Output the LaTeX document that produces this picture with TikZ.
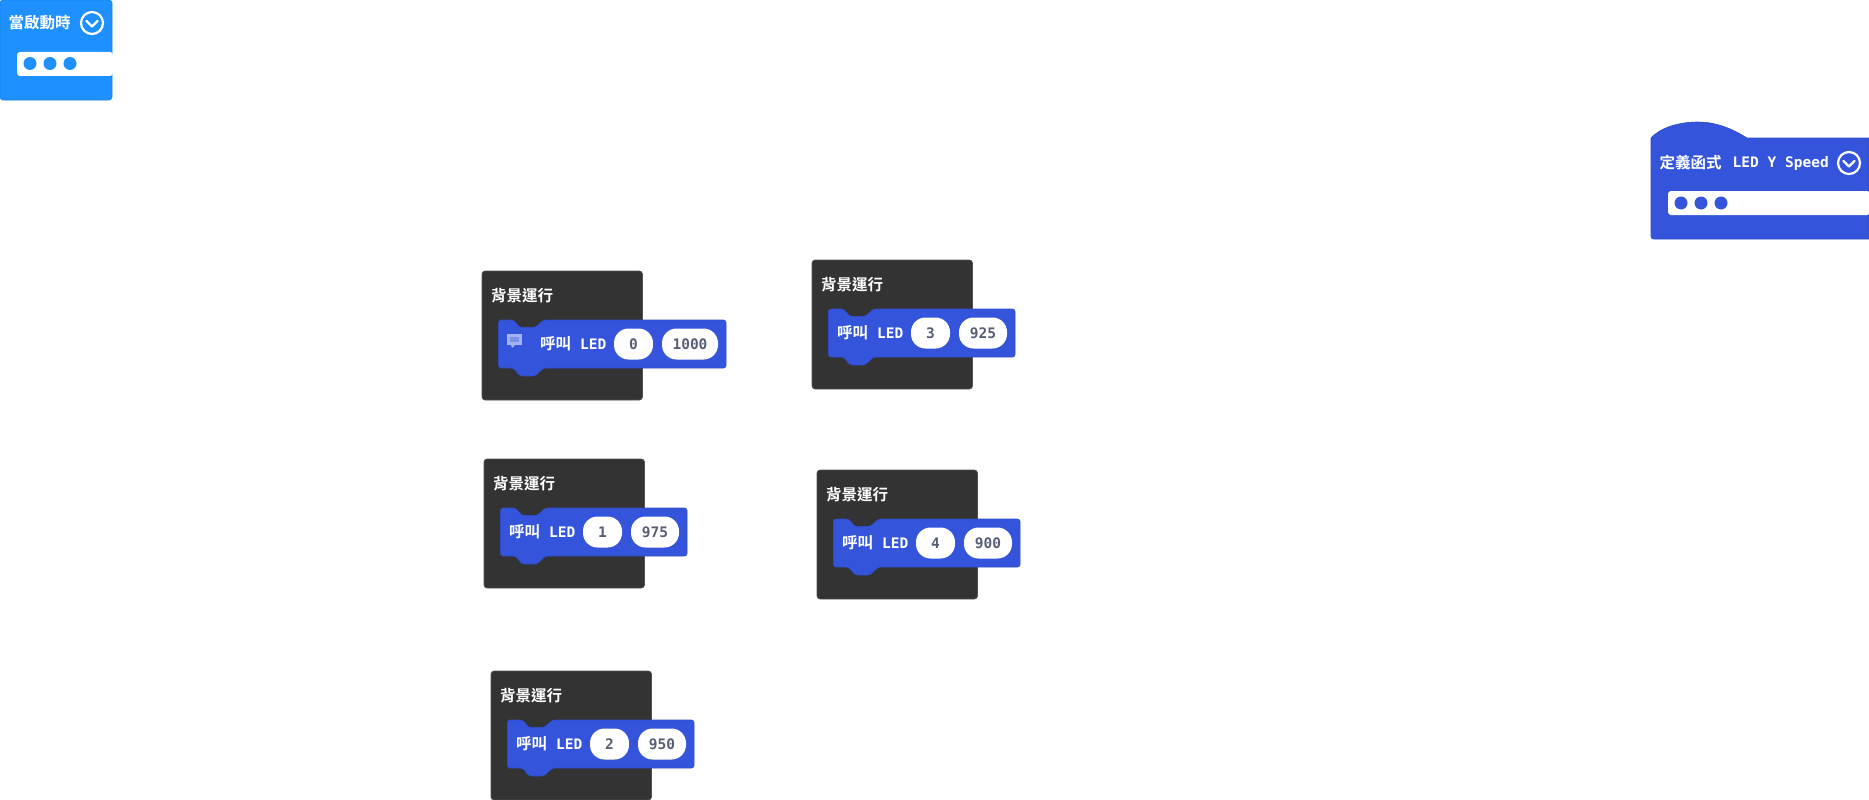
\documentclass[tikz,border=0pt]{standalone}
\usepackage{fontspec}
\newfontfamily\cjk{Noto Sans CJK TC}[BoldFont={Noto Sans CJK TC Bold}]
\newfontfamily\codefont{DejaVu Sans Mono}[BoldFont={DejaVu Sans Mono Bold}]
\definecolor{loopblue}{HTML}{1E90FF}
\definecolor{funcblue}{HTML}{3455DB}
\definecolor{darkbox}{HTML}{333333}
\definecolor{valgrey}{HTML}{575E75}
\tikzset{
  blocktitle/.style={anchor=west, inner sep=0pt, text=white, font=\cjk\bfseries\fontsize{15.5}{15.5}\selectfont},
  blockcode/.style={anchor=west, inner sep=0pt, text=white, font=\codefont\bfseries\fontsize{14.5}{14.5}\selectfont},
  pill/.style={draw=none, fill=white, rounded corners=14.5pt, minimum height=31pt, inner sep=0pt,
    text=valgrey, font=\codefont\bfseries\fontsize{14.5}{14.5}\selectfont},
  togglering/.style={circle, draw=white, line width=2.2pt, minimum size=22pt, inner sep=0pt},
}
% #1 name, #2 x, #3 y, #4 led, #5 speed, #6 width of speed pill, #7 shift of the row
\newcommand{\bgblock}[7]{
\begin{scope}[shift={(#2,#3)}]
\draw [fill=darkbox, draw=darkbox!85!white, line width=.6pt, rounded corners=3pt] (0,0) rectangle (160.5,129);
\node [blocktitle] (title#1) at (9,25) {背景運行};
\draw [fill=funcblue, draw=funcblue!90!black, line width=.6pt, rounded corners=2.5pt]
  (16.5,49) -- (31.5,49) -- (38,56.5) -- (53,56.5) -- (61.5,49) -- (#7+155+#6,49)
  -- (#7+155+#6,97) -- (61.5,97) -- (53,105) -- (38,105) -- (31.5,97) -- (16.5,97) -- cycle;
\node [blocktitle] (call#1) at (#7+25,73) {呼叫};
\node [blockcode] (led#1) at (#7+65,73) {LED};
\node [pill, minimum width=39pt] (num#1) at (#7+118.5,73) {#4};
\node [pill, minimum width=#6 pt] (val#1) at (#7+147+#6/2,73) {#5};
\end{scope}
}
\begin{document}
\begin{tikzpicture}[x=1pt,y=-1pt]
\useasboundingbox (0,0) rectangle (1869,800);

% on start
\draw [fill=loopblue, draw=loopblue!90!black, line width=.6pt, rounded corners=3pt] (0,0) rectangle (112,100);
\fill [white, rounded corners=3pt] (17,52) -- (113,52) -- (113,76) -- (17,76) -- cycle;
\node [blocktitle] (starttitle) at (8.5,23) {當啟動時};
\node [togglering] (starttoggle) at (92,23) {};
\draw [white, line width=2.2pt, line cap=round, line join=round] (86.5,21) -- (92,26.5) -- (97.5,21);
\foreach \dx in {30,50,70} \fill [loopblue] (\dx,63.5) circle[radius=6.5];

% function definition
\draw [fill=funcblue, draw=funcblue!90!black, line width=.6pt]
  (1869,138) -- (1747,138) .. controls (1728,126) and (1712,122) .. (1698,122)
  .. controls (1678,122) and (1660,128) .. (1651,138) -- (1651,236.5)
  .. controls (1651,238) and (1652,239) .. (1653.5,239) -- (1869,239) -- cycle;
\fill [white, rounded corners=3pt] (1668,191) -- (1870,191) -- (1870,215) -- (1668,215) -- cycle;
\node [blocktitle] (functitle) at (1659.5,163) {定義函式};
\node [blockcode, font=\codefont\bfseries\fontsize{14.5}{14.5}\selectfont] (funcname) at (1732.5,163) {LED Y Speed};
\node [togglering] (functoggle) at (1849,163) {};
\draw [white, line width=2.2pt, line cap=round, line join=round] (1843.5,161) -- (1849,166.5) -- (1854.5,161);
\foreach \dx in {1681,1701,1721} \fill [funcblue] (\dx,203) circle[radius=6.5];

\bgblock{a}{482}{271}{0}{1000}{56}{33}
\bgblock{b}{484}{459}{1}{975}{48}{0}
\bgblock{c}{491}{671}{2}{950}{48}{0}
\bgblock{d}{812}{260}{3}{925}{48}{0}
\bgblock{e}{817}{470}{4}{900}{48}{0}

% comment icon
\fill [funcblue!45!white] (507,334) rectangle (522,345);
\fill [funcblue!45!white] (511,345) -- (515,345) -- (512,348) -- cycle;
\fill [funcblue!65!white] (510,337) rectangle (519,342);
\end{tikzpicture}
\end{document}
